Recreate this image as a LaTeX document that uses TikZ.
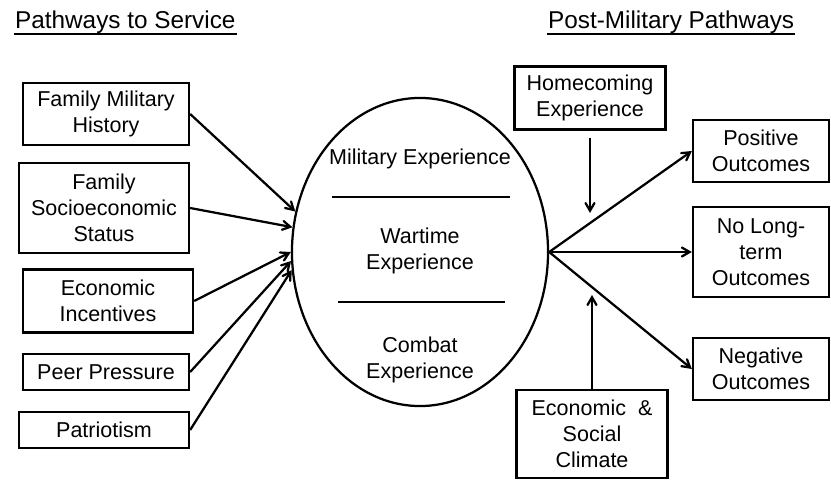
\documentclass[tikz,border=0pt]{standalone}
\usepackage{fontspec}
\setmainfont{Liberation Sans}
\usepackage{tikz}
\usetikzlibrary{shapes.geometric}
\usetikzlibrary{arrows}
\tikzset{box/.style={draw,line width=1.6pt,align=center,inner sep=2pt,font=\fontsize{15.3}{18.5}\selectfont}}
\tikzset{heading/.style={inner sep=0pt,font=\fontsize{17.3}{20}\selectfont}}
\tikzset{inside/.style={align=center,font=\fontsize{15.3}{19}\selectfont}}

\begin{document}
\begin{tikzpicture}[x=0.025cm,y=-0.025cm,line width=1.6pt,>=angle 60]
\useasboundingbox (0,0) rectangle (831,481);
% headings
\node[heading,anchor=base west] (lefthead) at (14,28) {Pathways to Service};
\node[heading,anchor=base west] (righthead) at (547,28) {Post-Military Pathways};
\draw ([yshift=-4pt]lefthead.base west) -- ([yshift=-4pt]lefthead.base east);
\draw ([yshift=-4pt]righthead.base west) -- ([yshift=-4pt]righthead.base east);
% pathways to service
\node[box,minimum width=4.15cm,minimum height=1.55cm] (fammil) at (106,114) {Family Military\\History};
\node[box,minimum width=4.25cm,minimum height=2.25cm] (famses) at (104,208) {Family\\Socioeconomic\\Status};
\node[box,minimum width=4.25cm,minimum height=1.575cm] (econinc) at (108,301) {Economic\\Incentives};
\node[box,minimum width=4.15cm,minimum height=0.9cm] (peer) at (106,372) {Peer Pressure};
\node[box,minimum width=4.25cm,minimum height=0.9cm] (patriot) at (104,430) {Patriotism};
% military experience
\node[draw,ellipse,line width=1.6pt,minimum width=6.4cm,minimum height=7.7cm] (exp) at (420,252) {};
\node[inside] (milexp) at (420,159) {Military Experience};
\node[inside] (wartime) at (420,251) {Wartime\\Experience};
\node[inside] (combat) at (420,360) {Combat\\Experience};
\draw (332,197) -- (510,197);
\draw (338,302) -- (505,302);
% post-military pathways
\node[box,minimum width=3.775cm,minimum height=1.575cm] (home) at (590,98) {Homecoming\\Experience};
\node[box,minimum width=3.775cm,minimum height=2.2cm] (econsoc) at (592,434) {Economic~~\&\\Social\\Climate};
\node[box,minimum width=3.4cm,minimum height=1.55cm] (positive) at (761,151) {Positive\\Outcomes};
\node[box,minimum width=3.4cm,minimum height=2.25cm] (nolong) at (761,252) {No Long-\\term\\Outcomes};
\node[box,minimum width=3.4cm,minimum height=1.55cm] (negative) at (761,369) {Negative\\Outcomes};
\coordinate (homeend) at (590,213);
\coordinate (econend) at (592,295);
\foreach \src/\ang in {fammil/162,famses/169,econinc/180,peer/184,patriot/188} {
\draw[->] (\src.east) -- (exp.\ang);
}
\foreach \dst in {positive,nolong,negative} {
\draw[->] (exp.east) -- (\dst.west);
}
\draw[->,shorten <=5pt] (home.south) -- (homeend);
\draw[->] (econsoc.north) -- (econend);
\end{tikzpicture}
\end{document}
